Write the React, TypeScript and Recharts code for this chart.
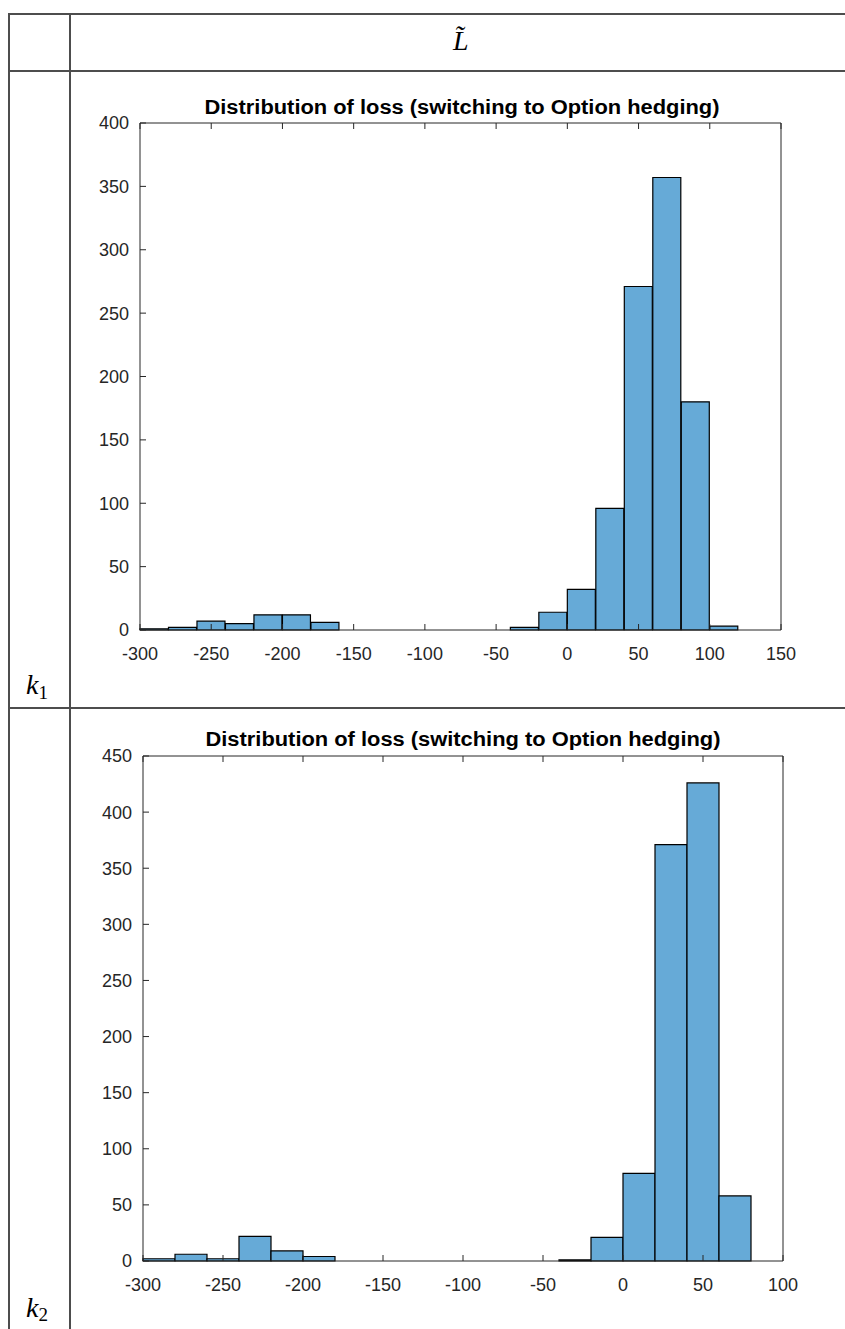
import React from 'react';
import { BarChart, Bar, XAxis, YAxis } from 'recharts';

// histogram bins are 20 wide, listed by their left edge
const binWidth = 20;

const binStartsK1 = [
  -300, -280, -260, -240, -220, -200, -180, -160, -140, -120, -100, -80, -60, -40, -20, 0, 20, 40, 60, 80, 100,
];
const countsK1 = [1, 2, 7, 5, 12, 12, 6, 0, 0, 0, 0, 0, 0, 2, 14, 32, 96, 271, 357, 180, 3];
const xTicksK1 = [-300, -250, -200, -150, -100, -50, 0, 50, 100, 150];
const yTicksK1 = [0, 50, 100, 150, 200, 250, 300, 350, 400];

const binStartsK2 = [
  -300, -280, -260, -240, -220, -200, -180, -160, -140, -120, -100, -80, -60, -40, -20, 0, 20, 40, 60,
];
const countsK2 = [2, 6, 2, 22, 9, 4, 0, 0, 0, 0, 0, 0, 0, 1, 21, 78, 371, 426, 58];
const xTicksK2 = [-300, -250, -200, -150, -100, -50, 0, 50, 100];
const yTicksK2 = [0, 50, 100, 150, 200, 250, 300, 350, 400, 450];

const chartTitle = 'Distribution of loss (switching to Option hedging)';

const axisColor = '#262626';
const gridLine = '#4d4d4d';
const font = '"Liberation Sans", Arial, sans-serif';

const toRows = (starts: number[], counts: number[]) =>
  starts.map((s, i) => ({ mid: s + binWidth / 2, count: counts[i] }));

// top / right axes only show tick marks
const noLabel = () => <g />;

interface HistProps {
  starts: number[];
  counts: number[];
  xTicks: number[];
  yTicks: number[];
  top: number;
  height: number;
  margin: { top: number; right: number; bottom: number; left: number };
  titleX: number;
  titleY: number;
}

function Histogram({ starts, counts, xTicks, yTicks, top, height, margin, titleX, titleY }: HistProps) {
  const rows = toRows(starts, counts);
  const xDomain = [xTicks[0], xTicks[xTicks.length - 1]];
  const yDomain = [yTicks[0], yTicks[yTicks.length - 1]];
  const tickStyle = { fill: axisColor, fontSize: 18, fontFamily: font };

  return (
    <>
      <svg width={845} height={30} style={{ position: 'absolute', left: 0, top: titleY - 18 }}>
        <text
          x={titleX}
          y={24}
          textAnchor="middle"
          textLength={515}
          lengthAdjust="spacingAndGlyphs"
          style={{ fontFamily: font, fontWeight: 700, fontSize: 20, fill: '#000' }}
        >
          {chartTitle}
        </text>
      </svg>
      <div style={{ position: 'absolute', left: 0, top }}>
        <BarChart width={845} height={height} data={rows} margin={margin} barCategoryGap={0} barGap={0}>
          <XAxis
            xAxisId="bottom"
            dataKey="mid"
            type="number"
            domain={xDomain}
            ticks={xTicks}
            interval={0}
            height={30}
            tickSize={-6}
            tickMargin={23}
            stroke={axisColor}
            tick={tickStyle}
          />
          <XAxis
            xAxisId="top"
            orientation="top"
            dataKey="mid"
            type="number"
            domain={xDomain}
            ticks={xTicks}
            interval={0}
            height={1}
            tickSize={-6}
            stroke={axisColor}
            tick={noLabel}
          />
          <YAxis
            yAxisId="left"
            type="number"
            domain={yDomain}
            ticks={yTicks}
            interval={0}
            width={40}
            tickSize={-6}
            tickMargin={17}
            stroke={axisColor}
            tick={tickStyle}
          />
          <YAxis
            yAxisId="right"
            orientation="right"
            type="number"
            domain={yDomain}
            ticks={yTicks}
            interval={0}
            width={1}
            tickSize={-6}
            stroke={axisColor}
            tick={noLabel}
          />
          <Bar
            xAxisId="bottom"
            yAxisId="left"
            dataKey="count"
            fill="#66aad7"
            stroke="#000"
            strokeWidth={1.2}
            isAnimationActive={false}
          />
        </BarChart>
      </div>
    </>
  );
}

const hLine = (y: number) => (
  <div style={{ position: 'absolute', left: 8, top: y, width: 837, height: 1.5, background: gridLine }} />
);
const vLine = (x: number) => (
  <div style={{ position: 'absolute', left: x, top: 13, width: 1.5, height: 1316, background: gridLine }} />
);

const mathStyle: React.CSSProperties = {
  position: 'absolute',
  fontFamily: '"Liberation Serif", "DejaVu Serif", serif',
  fontSize: 28,
  color: '#000',
  lineHeight: 1,
};

export default function App() {
  return (
    <div
      style={{
        position: 'absolute',
        left: 0,
        top: 0,
        width: 845,
        height: 1329,
        background: '#fff',
        overflow: 'hidden',
      }}
    >
      {hLine(13)}
      {hLine(70)}
      {hLine(707)}
      {vLine(8)}
      {vLine(69)}

      <div style={{ ...mathStyle, left: 453, top: 27 }}>
        <i>L{'\u0303'}</i>
      </div>
      <div style={{ ...mathStyle, left: 26, top: 671 }}>
        <i>k</i>
        <span style={{ fontSize: 19, verticalAlign: -5 }}>1</span>
      </div>
      <div style={{ ...mathStyle, left: 26, top: 1294 }}>
        <i>k</i>
        <span style={{ fontSize: 19, verticalAlign: -4 }}>2</span>
      </div>

      <Histogram
        starts={binStartsK1}
        counts={countsK1}
        xTicks={xTicksK1}
        yTicks={yTicksK1}
        top={90}
        height={580}
        margin={{ top: 32, right: 63, bottom: 10, left: 100 }}
        titleX={462}
        titleY={108}
      />
      <Histogram
        starts={binStartsK2}
        counts={countsK2}
        xTicks={xTicksK2}
        yTicks={yTicksK2}
        top={720}
        height={581}
        margin={{ top: 35, right: 61, bottom: 10, left: 103 }}
        titleX={463}
        titleY={740}
      />
    </div>
  );
}
